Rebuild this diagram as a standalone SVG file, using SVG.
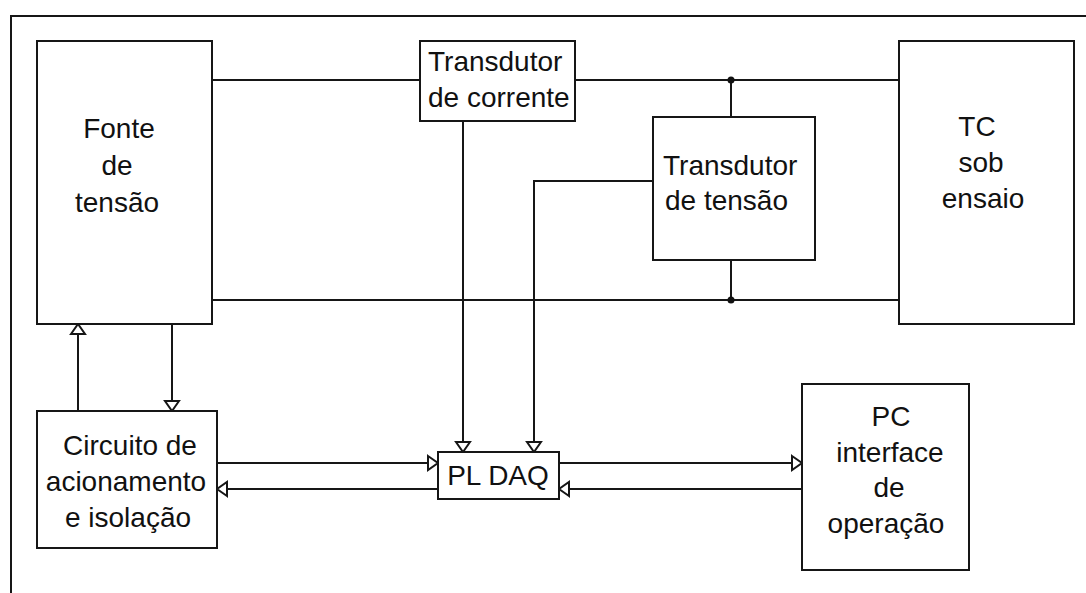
<svg xmlns="http://www.w3.org/2000/svg" width="1086" height="593" viewBox="0 0 1086 593">
  <style>
    .box { fill: #ffffff; stroke: #161616; stroke-width: 2; }
    .wire { fill: none; stroke: #161616; stroke-width: 2; }
    .lbl { font-family: "Liberation Sans", Arial, sans-serif; font-size: 28px; fill: #111111; }
    .c { text-anchor: middle; }
    .dot { fill: #111111; }
  </style>
  <defs>
    <marker id="tri" markerUnits="userSpaceOnUse" markerWidth="14" markerHeight="18" refX="11" refY="8" orient="auto" overflow="visible">
      <path d="M1,1 L11,8 L1,15 Z" fill="#ffffff" stroke="#161616" stroke-width="2" stroke-linejoin="miter"/>
    </marker>
  </defs>
  <rect x="0" y="0" width="1086" height="593" fill="#ffffff"/>
  <g id="frame">
    <path class="wire" d="M1086,16 L11,16 L11,593"/>
  </g>

  <g id="connectors">
    <path class="wire" d="M212,80 L420,80"/>
    <path class="wire" d="M575,80 L899,80"/>
    <path class="wire" d="M731,80 L731,117"/>
    <path class="wire" d="M212,300 L899,300"/>
    <path class="wire" d="M731,260 L731,300"/>
    <circle class="dot" cx="731" cy="80" r="3.5"/>
    <circle class="dot" cx="731" cy="300" r="3.5"/>
    <path class="wire" d="M463,121 L463,452" marker-end="url(#tri)"/>
    <path class="wire" d="M653,181 L534,181 L534,452" marker-end="url(#tri)"/>
    <path class="wire" d="M78,411 L78,324" marker-end="url(#tri)"/>
    <path class="wire" d="M172,324 L172,411" marker-end="url(#tri)"/>
    <path class="wire" d="M217,463 L438,463" marker-end="url(#tri)"/>
    <path class="wire" d="M438,489 L217,489" marker-end="url(#tri)"/>
    <path class="wire" d="M559,463 L802,463" marker-end="url(#tri)"/>
    <path class="wire" d="M802,489 L559,489" marker-end="url(#tri)"/>
  </g>

  <g id="fonte">
    <rect class="box" x="37" y="41" width="175" height="283"/>
    <text class="lbl c" x="119" y="138">Fonte</text>
    <text class="lbl c" x="117" y="175">de</text>
    <text class="lbl c" x="117" y="212">tensão</text>
  </g>

  <g id="transdutor-corrente">
    <rect class="box" x="420" y="41" width="155" height="80"/>
    <text class="lbl" x="428" y="71">Transdutor</text>
    <text class="lbl" x="428" y="107">de corrente</text>
  </g>

  <g id="transdutor-tensao">
    <rect class="box" x="653" y="117" width="162" height="143"/>
    <text class="lbl" x="663" y="175">Transdutor</text>
    <text class="lbl" x="665" y="210">de tensão</text>
  </g>

  <g id="tc">
    <rect class="box" x="899" y="41" width="175" height="283"/>
    <text class="lbl c" x="977" y="136">TC</text>
    <text class="lbl c" x="981" y="172">sob</text>
    <text class="lbl c" x="983" y="208">ensaio</text>
  </g>

  <g id="circuito">
    <rect class="box" x="37" y="411" width="180" height="137"/>
    <text class="lbl c" x="130" y="455">Circuito de</text>
    <text class="lbl c" x="126" y="491">acionamento</text>
    <text class="lbl c" x="128" y="527">e isolação</text>
  </g>

  <g id="pldaq">
    <rect class="box" x="438" y="452" width="121" height="47"/>
    <text class="lbl c" x="498" y="485">PL DAQ</text>
  </g>

  <g id="pc">
    <rect class="box" x="802" y="384" width="167" height="186"/>
    <text class="lbl c" x="891" y="426">PC</text>
    <text class="lbl c" x="890" y="462">interface</text>
    <text class="lbl c" x="889" y="497">de</text>
    <text class="lbl c" x="886" y="533">operação</text>
  </g>
</svg>
